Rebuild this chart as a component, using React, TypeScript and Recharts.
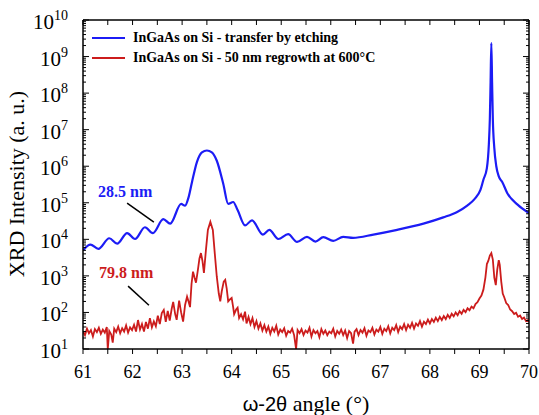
import { LineChart, Line, XAxis, YAxis, ReferenceLine, ReferenceDot } from 'recharts';

// blue: InGaAs on Si - transfer by etching
const blueAngle = [
  61.0, 61.15, 61.31, 61.53, 61.69, 61.89, 62.05, 62.25, 62.41, 62.62, 62.76, 62.98, 63.06, 63.13,
  63.2, 63.3, 63.4, 63.5, 63.6, 63.7, 63.83, 63.93, 64.03, 64.12, 64.27, 64.41, 64.63, 64.76, 64.94,
  65.14, 65.32, 65.52, 65.69, 65.85, 66.05, 66.25, 66.45, 66.86, 67.34, 67.87, 68.27, 68.55, 68.76,
  68.9, 69.02, 69.08, 69.15, 69.19, 69.21, 69.225, 69.24, 69.255, 69.27, 69.3, 69.34, 69.39, 69.46,
  69.56, 69.77, 70.0,
];
const blueIntensity = [
  5000, 7200, 5500, 10700, 7600, 14800, 10200, 21400, 14800, 35500, 26900, 93300, 83200, 141000,
  372000, 1.32e6, 2.4e6, 2.69e6, 2.4e6, 1.41e6, 331000, 93300, 105000, 63000, 24000, 33100, 13500, 18200, 10200,
  13800, 8500, 11700, 8700, 11500, 9100, 11700, 11000, 13500, 18200, 26900, 39800, 56200, 85100,
  126000, 224000, 427000, 891000, 4e6, 2e7, 2e8, 2.34e9, 2e8, 2e7, 3.16e6, 1e6, 525000, 372000,
  186000, 89100, 52500,
];

// red: InGaAs on Si - 50 nm regrowth at 600°C
const redAngle = [
  61.0, 61.04, 61.08, 61.12, 61.16, 61.2, 61.24, 61.28, 61.32, 61.36, 61.4, 61.44, 61.48, 61.5, 61.53,
  61.57, 61.6, 61.63, 61.67, 61.71, 61.75, 61.79, 61.83, 61.87, 61.91, 61.95, 61.99, 62.03, 62.07,
  62.11, 62.15, 62.19, 62.23, 62.27, 62.31, 62.35, 62.39, 62.43, 62.47, 62.51, 62.55, 62.59, 62.63,
  62.67, 62.71, 62.75, 62.79, 62.82, 62.86, 62.89, 62.94, 62.98, 63.02, 63.06, 63.1, 63.13, 63.16,
  63.19, 63.22, 63.25, 63.28, 63.32, 63.35, 63.38, 63.41, 63.44, 63.48, 63.52, 63.57, 63.62, 63.66,
  63.7, 63.74, 63.77, 63.8, 63.84, 63.87, 63.9, 63.93, 63.97, 64.0, 64.03, 64.05, 64.09, 64.12, 64.15,
  64.19, 64.23, 64.27, 64.3, 64.34, 64.38, 64.42, 64.46, 64.5, 64.54, 64.58, 64.62, 64.66, 64.7,
  64.74, 64.78, 64.82, 64.86, 64.9, 64.94, 64.98, 65.02, 65.06, 65.1, 65.14, 65.18, 65.22, 65.26,
  65.3, 65.33, 65.37, 65.41, 65.45, 65.49, 65.53, 65.57, 65.61, 65.65, 65.69, 65.73, 65.77, 65.81,
  65.85, 65.89, 65.93, 65.97, 66.01, 66.05, 66.09, 66.13, 66.17, 66.21, 66.25, 66.29, 66.33, 66.37,
  66.41, 66.45, 66.48, 66.52, 66.56, 66.6, 66.64, 66.68, 66.72, 66.76, 66.8, 66.84, 66.88, 66.92,
  66.96, 67.0, 67.04, 67.08, 67.12, 67.16, 67.2, 67.24, 67.28, 67.32, 67.36, 67.4, 67.44, 67.48,
  67.52, 67.56, 67.6, 67.64, 67.68, 67.72, 67.76, 67.8, 67.84, 67.88, 67.92, 67.96, 68.0, 68.04,
  68.08, 68.12, 68.16, 68.2, 68.24, 68.28, 68.32, 68.36, 68.4, 68.44, 68.48, 68.52, 68.56, 68.6,
  68.64, 68.68, 68.72, 68.76, 68.8, 68.84, 68.88, 68.92, 68.96, 69.0, 69.04, 69.08, 69.12, 69.15,
  69.18, 69.21, 69.24, 69.27, 69.3, 69.33, 69.36, 69.39, 69.41, 69.44, 69.47, 69.5, 69.54, 69.58,
  69.62, 69.66, 69.7, 69.74, 69.78, 69.82, 69.86, 69.9, 69.94, 69.98, 70.0,
];
const redIntensity = [
  30, 24, 36, 27, 33, 22, 35, 29, 38, 26, 34, 28, 40, 10, 31,
  25, 15, 36, 29, 41, 27, 37, 30, 44, 28, 39, 33, 46, 30,
  62, 34, 48, 30, 55, 36, 70, 39, 57, 42, 82, 48, 96, 117,
  55, 110, 60, 126, 195, 90, 63, 210, 100, 56, 160, 270, 200, 140,
  600, 1300, 900, 650, 1500, 3000, 4200, 2600, 1200, 5000, 18000, 30000, 18000, 4000,
  950, 330, 200, 380, 700, 780, 450, 200, 230, 250, 140, 90, 120, 135, 70,
  90, 65, 105, 50, 75, 48, 70, 40, 58, 36, 50, 32, 45, 30,
  41, 26, 38, 30, 43, 25, 34, 29, 37, 23, 31, 28, 36, 24,
  10, 33, 27, 35, 24, 32, 28, 38, 22, 33, 27, 31, 21, 35,
  26, 32, 24, 30, 27, 36, 22, 31, 26, 34, 24, 32, 20, 31,
  27, 14, 30, 35, 24, 33, 28, 37, 23, 32, 29, 38, 25, 34,
  30, 40, 26, 36, 31, 42, 27, 38, 33, 45, 29, 41, 35, 48,
  33, 46, 38, 52, 36, 50, 43, 58, 41, 56, 48, 64, 50, 66,
  55, 72, 58, 76, 62, 80, 66, 86, 71, 92, 78, 100, 84, 108,
  92, 118, 102, 130, 115, 145, 130, 170, 190, 240, 290, 420, 900, 2100,
  2600, 3600, 4200, 2800, 900, 560, 1500, 2700, 2000, 700, 330, 260, 180, 160,
  120, 108, 90, 98, 76, 82, 66, 72, 58, 62, 55,
];

const xTicks = [61, 61.5, 62, 62.5, 63, 63.5, 64, 64.5, 65, 65.5, 66, 66.5, 67, 67.5, 68, 68.5, 69, 69.5, 70];
const decades = [1e1, 1e2, 1e3, 1e4, 1e5, 1e6, 1e7, 1e8, 1e9, 1e10];
const yTicks = decades.flatMap((d, i) =>
  i === decades.length - 1 ? [d] : [1, 2, 3, 4, 5, 6, 7, 8, 9].map((m) => m * d)
);

const blueData = blueAngle.map((a, i) => ({ angle: a, blue: blueIntensity[i] }));
const redData = redAngle.map((a, i) => ({ angle: a, red: redIntensity[i] }));

const BLUE = '#1c1cf5';
const RED = '#cc1c1c';
const SERIF = "'Liberation Serif', Tinos, 'DejaVu Serif', serif";
const SANS = "'Liberation Sans', Arimo, 'DejaVu Sans', sans-serif";

const isDecade = (v: number) => {
  const e = Math.round(Math.log10(v));
  return Math.abs(v - Math.pow(10, e)) < v * 1e-6;
};

function LeftTick({ x, y, payload }: any) {
  const v = payload.value;
  const major = isDecade(v);
  const exp = Math.round(Math.log10(v));
  return (
    <g>
      <line x1={x} x2={x + (major ? 6 : 3)} y1={y} y2={y} stroke="#000" strokeWidth={1} />
      {major && (
        <text x={x - 15} y={y + 9} textAnchor="end" fill="#000" style={{ fontFamily: SERIF, fontSize: 21 }}>
          10<tspan dy={-9} style={{ fontSize: 14 }}>{exp}</tspan>
        </text>
      )}
    </g>
  );
}

function RightTick({ x, y, payload }: any) {
  const major = isDecade(payload.value);
  return <line x1={x} x2={x - (major ? 6 : 3)} y1={y} y2={y} stroke="#000" strokeWidth={1} />;
}

function BottomTick({ x, y, payload }: any) {
  const v = payload.value;
  const major = Number.isInteger(v);
  return (
    <g>
      <line x1={x} x2={x} y1={y} y2={y + 5} stroke="#000" strokeWidth={1} />
      {major && (
        <text x={x} y={y + 29} textAnchor="middle" fill="#000" style={{ fontFamily: SERIF, fontSize: 18 }}>
          {v}
        </text>
      )}
    </g>
  );
}

function TopTick({ x, y }: any) {
  return <line x1={x} x2={x} y1={y} y2={y + 5} stroke="#000" strokeWidth={1} />;
}

export default function App() {
  return (
    <div
      style={{
        position: 'absolute',
        left: 0,
        top: 0,
        width: 539,
        height: 415,
        background: '#fff',
        fontFamily: SERIF,
      }}
    >
      <LineChart width={539} height={415} margin={{ top: 19, right: 9, bottom: 26, left: 23 }}>
        <XAxis
          xAxisId="bottom"
          dataKey="angle"
          type="number"
          domain={[61, 70]}
          ticks={xTicks}
          interval={0}
          allowDataOverflow
          height={40}
          tickSize={0}
          tickMargin={0}
          tickLine={false}
          tick={<BottomTick />}
          axisLine={{ stroke: '#000', strokeWidth: 1.5 }}
          label={{
            content: () => (
              <text x={306} y={411} textAnchor="middle" fill="#000" style={{ fontFamily: SERIF, fontSize: 22 }}>
                <tspan style={{ fontFamily: SANS, fontSize: 20 }}>ω-2θ</tspan> angle (°)
              </text>
            ),
          }}
        />
        <XAxis
          xAxisId="top"
          orientation="top"
          dataKey="angle"
          type="number"
          domain={[61, 70]}
          ticks={xTicks}
          interval={0}
          allowDataOverflow
          height={1}
          tickSize={0}
          tickMargin={0}
          tickLine={false}
          tick={<TopTick />}
          axisLine={{ stroke: '#000', strokeWidth: 1.5 }}
        />
        <YAxis
          yAxisId="left"
          scale="log"
          domain={[10, 1e10]}
          ticks={yTicks}
          interval={0}
          allowDataOverflow
          width={60}
          tickSize={0}
          tickMargin={0}
          tickLine={false}
          tick={<LeftTick />}
          axisLine={{ stroke: '#000', strokeWidth: 1.5 }}
          label={{
            content: () => (
              <text
                x={24}
                y={184}
                transform="rotate(-90 24 184)"
                textAnchor="middle"
                fill="#000"
                style={{ fontFamily: SERIF, fontSize: 22 }}
              >
                XRD Intensity (a. u.)
              </text>
            ),
          }}
        />
        <YAxis
          yAxisId="right"
          orientation="right"
          scale="log"
          domain={[10, 1e10]}
          ticks={yTicks}
          interval={0}
          allowDataOverflow
          width={1}
          tickSize={0}
          tickMargin={0}
          tickLine={false}
          tick={<RightTick />}
          axisLine={{ stroke: '#000', strokeWidth: 1.5 }}
        />

        <Line
          data={redData}
          xAxisId="bottom"
          yAxisId="left"
          dataKey="red"
          type="linear"
          stroke={RED}
          strokeWidth={1.8}
          dot={false}
          isAnimationActive={false}
        />
        <Line
          data={blueData}
          xAxisId="bottom"
          yAxisId="left"
          dataKey="blue"
          type="monotone"
          stroke={BLUE}
          strokeWidth={2.2}
          dot={false}
          isAnimationActive={false}
        />
        <Line
          data={blueData}
          xAxisId="top"
          yAxisId="right"
          dataKey="blue"
          stroke="none"
          dot={false}
          legendType="none"
          isAnimationActive={false}
        />

        {/* thickness annotations */}
        <ReferenceLine
          xAxisId="bottom"
          yAxisId="left"
          segment={[{ x: 61.89, y: 98000 }, { x: 62.43, y: 29500 }]}
          stroke="#000"
          strokeWidth={1.5}
        />
        <ReferenceLine
          xAxisId="bottom"
          yAxisId="left"
          segment={[{ x: 61.91, y: 525 }, { x: 62.33, y: 158 }]}
          stroke="#000"
          strokeWidth={1.5}
        />
        <ReferenceDot
          xAxisId="bottom"
          yAxisId="left"
          x={61.85}
          y={210000}
          r={0}
          stroke="none"
          label={{
            value: '28.5 nm',
            position: 'center',
            fill: BLUE,
            style: { fontFamily: SERIF, fontSize: 16, fontWeight: 'bold' },
          }}
        />
        <ReferenceDot
          xAxisId="bottom"
          yAxisId="left"
          x={61.87}
          y={1290}
          r={0}
          stroke="none"
          label={{
            value: '79.8 nm',
            position: 'center',
            fill: RED,
            style: { fontFamily: SERIF, fontSize: 16, fontWeight: 'bold' },
          }}
        />
      </LineChart>

      {/* legend, inside the plot at top left */}
      <div
        style={{
          position: 'absolute',
          left: 90,
          top: 28,
          fontFamily: SERIF,
          fontWeight: 'bold',
          fontSize: 14,
          lineHeight: '20px',
        }}
      >
        {[
          { name: 'InGaAs on Si - transfer by etching', color: BLUE },
          { name: 'InGaAs on Si - 50 nm regrowth at 600°C', color: RED },
        ].map((item) => (
          <div key={item.name} style={{ display: 'flex', alignItems: 'center', height: 20, whiteSpace: 'nowrap' }}>
            <svg width={36} height={20} style={{ marginRight: 7 }}>
              <line x1={2} x2={35} y1={10} y2={10} stroke={item.color} strokeWidth={2} />
            </svg>
            <span>{item.name}</span>
          </div>
        ))}
      </div>
    </div>
  );
}
